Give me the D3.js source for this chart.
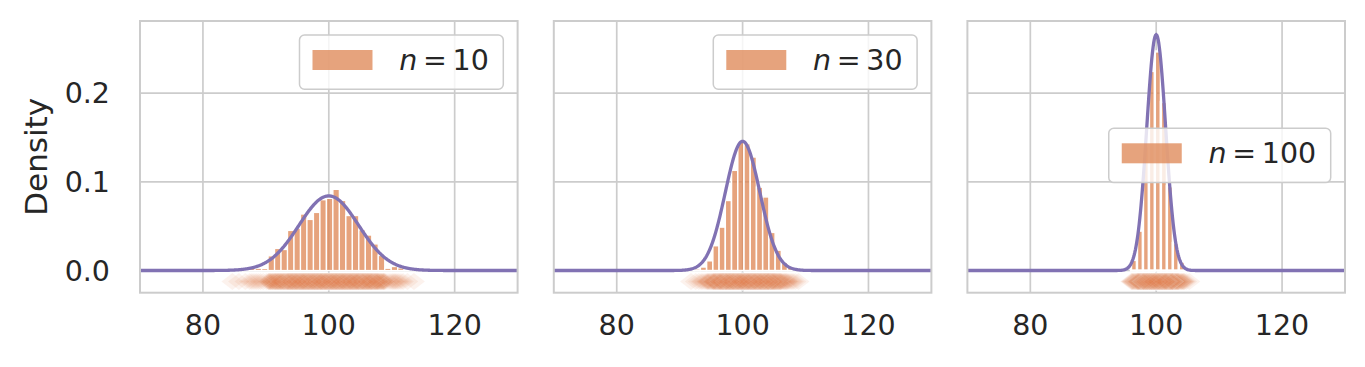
<!DOCTYPE html>
<html><head><meta charset="utf-8">
<script src="https://cdn.jsdelivr.net/npm/d3@7"></script>
<style>body{margin:0;background:#fff} text{font-family:"DejaVu Sans",sans-serif;fill:#262626}</style>
</head><body><svg id="c" width="1365" height="367"></svg>
<script>
// ---- data ----
const sampleSizes = [10, 30, 100];
const popMean = 100, popSD = 15;          // population of the sampled values
const nSamples = 1000;                    // number of sample means per panel
const binWidths = [1.03, 0.99, 0.95];
const binStarts = [84.17, 91.31, 96.0];
const density10 = [0.001,0.001,0.001,0.0026,0.0026,0.0023,0.0166,0.0249,0.0237,0.0452,0.0478,0.0637,0.0576,0.0655,0.0798,0.0814,0.0915,0.079,0.062,0.062,0.046,0.040,0.030,0.017,0.0026,0.0045,0.003,0.001,0.001];
const density30 = [0.001,0.002,0.004,0.011,0.028,0.049,0.079,0.113,0.145,0.143,0.128,0.094,0.083,0.043,0.023,0.009,0.004,0.002];
const density100 = [0.012,0.045,0.14,0.225,0.247,0.19,0.095,0.031,0.01,0.002];
const densities = [density10, density30, density100];
const xTicks = [80, 100, 120];
const yTicks = [0, 0.1, 0.2];
const xDomain = [70, 130];
const yDomain = [-0.025, 0.2813];
const rugLevel = -0.0125;

// ---- layout ----
const svg = d3.select("#c");
const panelLeft = [140, 553.8, 967.4], panelW = 377.6;
const plotTop = 21, plotBottom = 292.7;
const barColor = "#dd8452", lineColor = "#8172b3", gridColor = "#cccccc";
const legendTop = [35, 35, 128.3];
const barGap = [1.3, 1.5, 2.4];
const fs = 28.5;

sampleSizes.forEach((n, p) => {
  const x = d3.scaleLinear().domain(xDomain).range([panelLeft[p], panelLeft[p] + panelW]);
  const y = d3.scaleLinear().domain(yDomain).range([plotBottom, plotTop]);
  const g = svg.append("g");
  const clipId = "clip" + p;
  svg.append("clipPath").attr("id", clipId).append("rect")
    .attr("x", panelLeft[p]).attr("y", plotTop).attr("width", panelW).attr("height", plotBottom - plotTop);

  // grid
  g.selectAll(".gx").data(xTicks).join("line")
    .attr("x1", d => x(d)).attr("x2", d => x(d)).attr("y1", plotTop).attr("y2", plotBottom)
    .attr("stroke", gridColor).attr("stroke-width", 1.7);
  g.selectAll(".gy").data(yTicks).join("line")
    .attr("y1", d => y(d)).attr("y2", d => y(d)).attr("x1", panelLeft[p]).attr("x2", panelLeft[p] + panelW)
    .attr("stroke", gridColor).attr("stroke-width", 1.7);

  const plot = g.append("g").attr("clip-path", `url(#${clipId})`);

  // histogram
  const bins = densities[p].map((d, i) => ({x0: binStarts[p] + i * binWidths[p], x1: binStarts[p] + (i + 1) * binWidths[p], d}));
  plot.selectAll("rect.bar").data(bins).join("rect").attr("class", "bar")
    .attr("x", b => x(b.x0)).attr("width", b => x(b.x1) - x(b.x0))
    .attr("y", b => y(b.d)).attr("height", b => y(0) - y(b.d))
    .attr("fill", barColor).attr("fill-opacity", 0.75)
    .attr("stroke", "#fff").attr("stroke-width", barGap[p]);

  // rug of sample means, placed within each bin according to its count
  const rug = [];
  bins.forEach(b => {
    const c = Math.max(0, Math.round(b.d * (b.x1 - b.x0) * nSamples));
    for (let k = 0; k < c; k++) rug.push(b.x0 + (k + 0.5) / c * (b.x1 - b.x0));
  });
  // interleave drawing order so overlapping markers mix evenly
  const order = rug.map((v, i) => ({v, key: (i * 0.6180339887) % 1})).sort((a, b) => a.key - b.key).map(o => o.v);
  plot.selectAll("path.rug").data(order).join("path").attr("class", "rug")
    .attr("transform", v => `translate(${x(v)},${y(rugLevel)})`)
    .attr("d", "M0,-8.5L11,0L0,8.5L-11,0Z")
    .attr("fill", barColor).attr("fill-opacity", 0.1)
    .attr("stroke", "#fff").attr("stroke-opacity", 0.1).attr("stroke-width", 1.2);

  // normal density of the sample mean
  const se = popSD / Math.sqrt(n);
  const xs = d3.range(xDomain[0], xDomain[1] + 0.001, 0.1);
  const pdf = v => Math.exp(-0.5 * ((v - popMean) / se) ** 2) / (se * Math.sqrt(2 * Math.PI));
  plot.append("path").datum(xs)
    .attr("d", d3.line().x(v => x(v)).y(v => y(pdf(v))))
    .attr("fill", "none").attr("stroke", lineColor).attr("stroke-width", 3.3);

  // frame
  g.append("rect").attr("x", panelLeft[p]).attr("y", plotTop).attr("width", panelW).attr("height", plotBottom - plotTop)
    .attr("fill", "none").attr("stroke", gridColor).attr("stroke-width", 2);

  // x tick labels
  g.selectAll(".xt").data(xTicks).join("text")
    .attr("x", d => x(d)).attr("y", 335).attr("text-anchor", "middle")
    .attr("font-size", fs).text(d => d);

  // y tick labels (first panel only)
  if (p === 0) {
    g.selectAll(".yt").data(yTicks).join("text")
      .attr("x", 110).attr("y", d => y(d)).attr("dy", "0.36em").attr("text-anchor", "end")
      .attr("font-size", fs).text(d => d3.format(".1f")(d));
    g.append("text").attr("transform", `translate(46.5,${(plotTop + plotBottom) / 2}) rotate(-90)`)
      .attr("text-anchor", "middle").attr("font-size", 31).text("Density");
  }

  // legend
  const lg = svg.append("g");
  const box = lg.append("rect");
  const t = lg.append("text").attr("font-size", fs).attr("y", legendTop[p] + 35);
  t.append("tspan").attr("font-style", "italic").text("n");
  t.append("tspan").text("\u2009=\u2009" + n);
  const tw = t.node().getComputedTextLength();
  const right = panelLeft[p] + panelW - 14.3;
  const textStart = right - 14.5 - tw;
  t.attr("x", textStart);
  const boxLeft = textStart - 26.7 - 60 - 13;
  box.attr("x", boxLeft).attr("y", legendTop[p]).attr("width", right - boxLeft).attr("height", 54.3)
    .attr("rx", 5).attr("fill", "#fff").attr("fill-opacity", 0.8)
    .attr("stroke", gridColor).attr("stroke-width", 1.5);
  lg.append("rect").attr("x", boxLeft + 13).attr("y", legendTop[p] + 15).attr("width", 60).attr("height", 20)
    .attr("fill", barColor).attr("fill-opacity", 0.75);
});
</script></body></html>
